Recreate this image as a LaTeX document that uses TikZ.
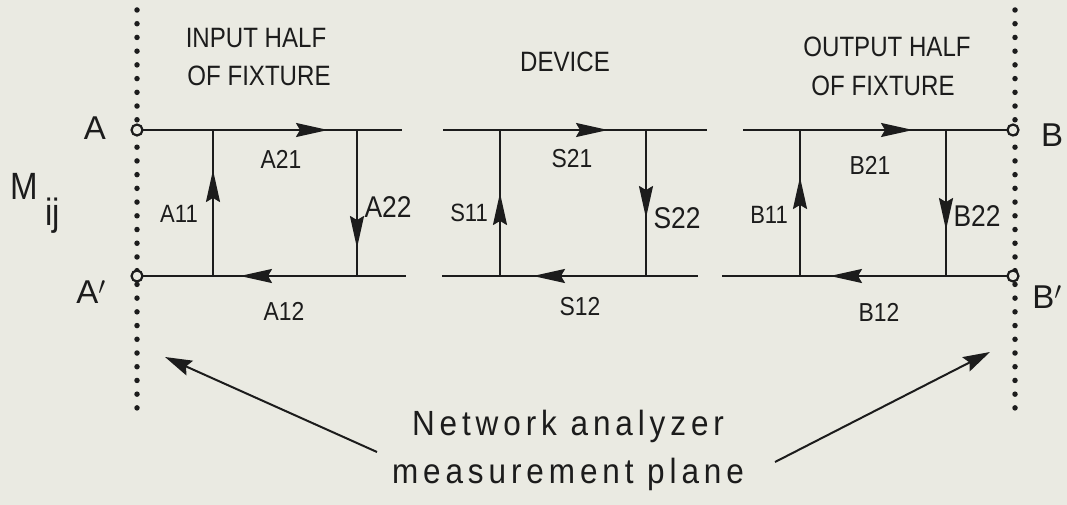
\documentclass[tikz,border=0pt]{standalone}
\usepackage{fontspec}
\setmainfont{Liberation Sans}
\newfontfamily\condfont[FakeStretch=0.86]{Liberation Sans}
\newfontfamily\lblfont[FakeStretch=0.88]{Liberation Sans}
\newfontfamily\mfont[FakeStretch=0.87]{Liberation Sans}
\newfontfamily\capfont[FakeStretch=0.9,LetterSpace=14]{Liberation Sans}
\usetikzlibrary{arrows.meta}
\definecolor{paper}{RGB}{234,234,226}
\definecolor{ink}{RGB}{28,28,28}
\begin{document}
\begin{tikzpicture}[x=1pt,y=-1pt,
  every node/.style={inner sep=0pt, outer sep=0pt, text=ink},
  wire/.style={draw=ink, line width=2.1pt},
  head/.style={draw=ink, line width=2.1pt, -{Stealth[length=32pt,width=14pt,inset=4pt]}},
  pointer/.style={draw=ink, line width=2pt, -{Stealth[length=27pt,width=16pt,inset=4pt]}},
  dotline/.style={draw=ink, line width=5.5pt, line cap=round, dash pattern=on 0pt off 13.72pt},
  port/.style={circle, draw=ink, line width=2.2pt, fill=paper, minimum size=11pt},
  heading/.style={font=\condfont\fontsize{28}{30}\selectfont},
  lbl/.style={font=\lblfont\fontsize{26}{28}\selectfont},
  lblsmall/.style={font=\lblfont\fontsize{25}{27}\selectfont},
  lblbig/.style={font=\lblfont\fontsize{30}{32}\selectfont},
  portlbl/.style={font=\fontsize{33}{35}\selectfont},
  caption/.style={font=\capfont\fontsize{35}{40}\selectfont, anchor=base}
]
\fill[paper] (0,0) rectangle (1067,505);
\useasboundingbox (0,0) rectangle (1067,505);

% measurement planes
\coordinate (Lt) at (137,10);
\coordinate (Lb) at (137,408);
\coordinate (Rt) at (1015,10);
\coordinate (Rb) at (1015,408);
\draw[dotline] (Lt) -- (Lb);
\draw[dotline] (Rt) -- (Rb);

% ports
\node[port] (pA)  at (137,130) {};
\node[port] (pAp) at (137,276) {};
\node[port] (pB)  at (1013,130) {};
\node[port] (pBp) at (1013,276) {};

% ---------- input half ----------
\coordinate (a1) at (213,130); \coordinate (a2) at (357,130); \coordinate (a3) at (402,130);
\coordinate (a4) at (213,276); \coordinate (a5) at (357,276); \coordinate (a6) at (406,276);
\draw[wire] (pA) -- (a3);
\draw[wire] (pAp) -- (a6);
\draw[wire] (a1) -- (a4);
\draw[wire] (a2) -- (a5);
\coordinate (tA21) at (328,130);
\coordinate (tA12) at (240,276);
\coordinate (tA11) at (213,170);
\coordinate (tA22) at (357,248);
\draw[head] ([xshift=-34pt]tA21) -- (tA21);
\draw[head] ([xshift=34pt]tA12) -- (tA12);
\draw[head] ([yshift=-34pt]tA11) -- (tA11);
\draw[head] ([yshift=34pt]tA22) -- (tA22);

% ---------- device ----------
\coordinate (s1) at (443,130); \coordinate (s2) at (500,130); \coordinate (s3) at (646,130); \coordinate (s4) at (707,130);
\coordinate (s5) at (442,276); \coordinate (s6) at (500,276); \coordinate (s7) at (646,276); \coordinate (s8) at (698,276);
\draw[wire] (s1) -- (s4);
\draw[wire] (s5) -- (s8);
\draw[wire] (s2) -- (s6);
\draw[wire] (s3) -- (s7);
\coordinate (tS21) at (608,130);
\coordinate (tS12) at (533,276);
\coordinate (tS11) at (500,193);
\coordinate (tS22) at (646,218);
\draw[head] ([xshift=-34pt]tS21) -- (tS21);
\draw[head] ([xshift=34pt]tS12) -- (tS12);
\draw[head] ([yshift=-34pt]tS11) -- (tS11);
\draw[head] ([yshift=34pt]tS22) -- (tS22);

% ---------- output half ----------
\coordinate (b1) at (743,130); \coordinate (b2) at (800,130); \coordinate (b3) at (946,130);
\coordinate (b5) at (722,276); \coordinate (b6) at (800,276); \coordinate (b7) at (946,276);
\draw[wire] (b1) -- (pB);
\draw[wire] (b5) -- (pBp);
\draw[wire] (b2) -- (b6);
\draw[wire] (b3) -- (b7);
\coordinate (tB21) at (913,130);
\coordinate (tB12) at (830,276);
\coordinate (tB11) at (800,177);
\coordinate (tB22) at (946,230);
\draw[head] ([xshift=-34pt]tB21) -- (tB21);
\draw[head] ([xshift=34pt]tB12) -- (tB12);
\draw[head] ([yshift=-34pt]tB11) -- (tB11);
\draw[head] ([yshift=34pt]tB22) -- (tB22);

% ---------- labels ----------
\node[lbl] (lA21) at (281,159) {A21};
\node[lblsmall] (lA11) at (179,214) {A11};
\node[lblbig] (lA22) at (388,207) {A22};
\node[lbl] (lA12) at (284,311) {A12};
\node[lbl] (lS21) at (572,159) {S21};
\node[lblsmall] (lS11) at (469,213) {S11};
\node[lblbig] (lS22) at (677,218) {S22};
\node[lbl] (lS12) at (580,307) {S12};
\node[lbl] (lB21) at (870,165) {B21};
\node[lblsmall] (lB11) at (769,215) {B11};
\node[lblbig] (lB22) at (977,216) {B22};
\node[lbl] (lB12) at (879,312) {B12};

% headings
\node[heading] (h1) at (256,38) {INPUT HALF};
\node[heading] (h2) at (259,76) {OF FIXTURE};
\node[heading] (h3) at (565,62) {DEVICE};
\node[heading] (h4) at (887,47) {OUTPUT HALF};
\node[heading] (h5) at (883,86) {OF FIXTURE};

% port names
\node[portlbl] (nA)  at (95,128) {A};
\node[portlbl] (nAp) at (91,292) {A$'$};
\node[portlbl] (nB)  at (1052,135) {B};
\node[portlbl] (nBp) at (1047,297) {B$'$};
\node[font=\mfont\fontsize{38}{40}\selectfont, anchor=base] (nM) at (24,200) {M};
\node[font=\mfont\fontsize{38}{40}\selectfont, anchor=base] (nij) at (53,225) {ij};

% caption and pointers
\node[caption] (c1) at (568,435) {Network analyzer};
\node[caption] (c2) at (568,483) {measurement plane};
\coordinate (pl0) at (377,452); \coordinate (pl1) at (165,357);
\coordinate (pr0) at (775,462); \coordinate (pr1) at (990,352);
\draw[pointer] (pl0) -- (pl1);
\draw[pointer] (pr0) -- (pr1);
\end{tikzpicture}
\end{document}
